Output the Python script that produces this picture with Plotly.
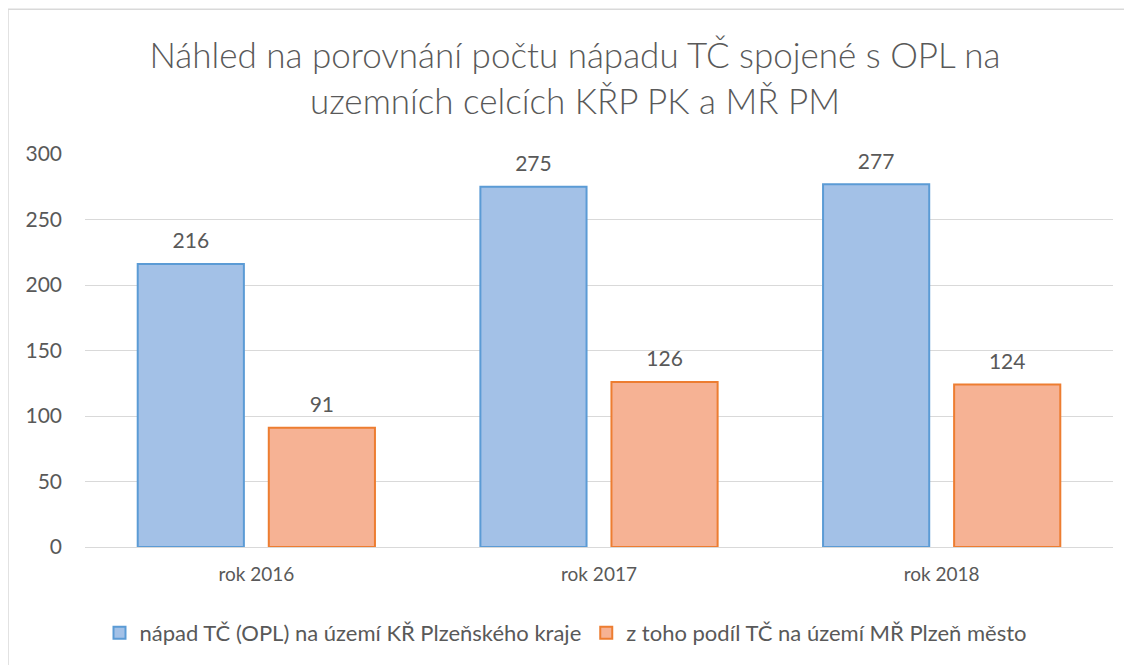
import plotly.graph_objects as go

categories = ["rok 2016", "rok 2017", "rok 2018"]
series1_name = "nápad TČ (OPL) na území KŘ Plzeňského kraje"
series1_values = [216, 275, 277]
series2_name = "z toho podíl TČ na území MŘ Plzeň město"
series2_values = [91, 126, 124]
y_ticks = [0, 50, 100, 150, 200, 250, 300]

title_text = "Náhled na porovnání počtu nápadu TČ spojené s OPL na<br>uzemních celcích KŘP PK a MŘ PM"

FONT = "Lato"
GRAY = "#595959"
OFF = 8  # page body margin
GAP = 0.235

fig = go.Figure()
for name, vals, fill, edge, grp in [
    (series1_name, series1_values, "#A3C1E7", "#5B9BD5", "a"),
    (series2_name, series2_values, "#F6B294", "#ED7D31", "b"),
]:
    fig.add_trace(go.Bar(
        x=categories, y=vals, name=name, offsetgroup=grp,
        marker=dict(color=fill, line=dict(color=edge, width=2)),
        hoverinfo="x+y+name",
    ))
for vals, grp in [(series1_values, "a"), (series2_values, "b")]:
    fig.add_trace(go.Scatter(
        x=categories, y=vals, offsetgroup=grp, mode="markers+text",
        text=[str(v) for v in vals], textposition="top center",
        textfont=dict(family=FONT, size=21, color=GRAY),
        marker=dict(size=15, opacity=0), showlegend=False, hoverinfo="skip", cliponaxis=False,
    ))

W, H = 1132 - OFF, 665 - OFF
L, T = 85 - OFF, 154 - OFF
R = W - (1113 - OFF)
B = H - (548 - OFF)
pw, ph = W - L - R, H - T - B

fig.update_layout(
    width=W, height=H,
    margin=dict(l=L, r=R, t=T, b=B, pad=0),
    paper_bgcolor="white", plot_bgcolor="white",
    barmode="group", bargap=GAP, bargroupgap=0.19,
    scattermode="group", scattergap=GAP,
    title=dict(text=title_text, x=(575 - OFF) / W, xanchor="center", y=1 - (68 - OFF) / H, yanchor="middle",
               font=dict(family=FONT, size=35, color=GRAY, weight=300)),
    font=dict(family=FONT, color=GRAY),
    showlegend=True,
    legend=dict(orientation="h", x=(566 - 85) / pw, xanchor="center", y=-(633 - 548) / ph, yanchor="middle",
                font=dict(family=FONT, size=22, color=GRAY), itemwidth=30, tracegroupgap=0),
    xaxis=dict(showgrid=False, showline=False, ticks="", tickfont=dict(family=FONT, size=19, color=GRAY),
               ticklabelstandoff=14),
    yaxis=dict(range=[0, 300], tickvals=y_ticks, showgrid=True, gridcolor="#D9D9D9", gridwidth=1,
               zeroline=True, zerolinecolor="#D9D9D9", zerolinewidth=1, showline=False, ticks="",
               tickfont=dict(family=FONT, size=21, color=GRAY), ticklabelstandoff=22),
    shapes=[dict(type="rect", xref="paper", yref="paper",
                 x0=(8 - 85) / pw, x1=(1132 + 20 - 85) / pw,
                 y0=-(665 + 20 - 548) / ph, y1=1 + (154 - 9) / ph,
                 line=dict(color="#D9D9D9", width=1.5), layer="below")],
)

fig.write_html("out.html")
